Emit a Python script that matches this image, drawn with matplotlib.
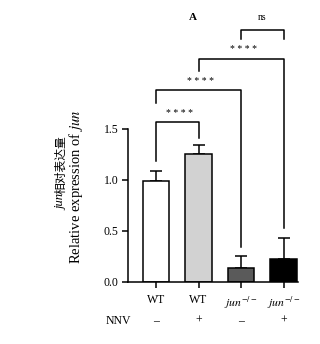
import matplotlib
matplotlib.use("Agg")
import matplotlib.pyplot as plt

plt.rcParams['font.family'] = ['Liberation Serif', 'Noto Sans CJK SC']
plt.rcParams['mathtext.fontset'] = 'stix'

groups = ['WT', 'WT', r'$\mathit{jun}^{-/-}$', r'$\mathit{jun}^{-/-}$']
nnv = ['\u2013', '+', '\u2013', '+']
means = [0.99, 1.25, 0.13, 0.22]
errs = [0.10, 0.09, 0.12, 0.205]
colors = ['white', '#d2d2d2', '#5a5a5a', 'black']

# comparisons: (i, j, bracket height, left leg end, right leg end, label)
comps = [
    (0, 1, 1.57, 1.18, 1.41, '* * * *'),
    (0, 2, 1.88, 1.75, 0.34, '* * * *'),
    (1, 3, 2.19, 2.07, 0.53, '* * * *'),
    (2, 3, 2.47, 2.38, 2.38, 'ns'),
]

fig = plt.figure(figsize=(3.2, 3.44), dpi=100)
ax = fig.add_axes([0.4, 0.181, 0.53, 0.80])

x = range(len(means))
ax.bar(x, means, width=0.63, color=colors, edgecolor='black', linewidth=1.1, zorder=2)
ax.errorbar(x, means, yerr=[[0] * len(errs), errs], fmt='none', ecolor='black',
            elinewidth=1.1, capsize=4.5, capthick=1.1, zorder=1)

for i, j, h, l1, l2, lab in comps:
    ax.plot([i, i, j, j], [l1, h, h, l2], color='black', lw=1.1, clip_on=False)
    if lab == 'ns':
        ax.text((i + j) / 2, h + 0.08, lab, ha='center', va='bottom', fontsize=7)
    else:
        ax.text((i + j) / 2 + 0.05, h + 0.04, lab, ha='center', va='bottom', fontsize=7)

ax.text(0.86, 2.55, 'A', ha='center', va='bottom', fontsize=8, fontweight='bold')

ax.set_xlim(-0.66, 3.33)
ax.set_ylim(0, 2.7)
ax.set_yticks([0, 0.5, 1.0, 1.5])
ax.set_yticklabels(['0.0', '0.5', '1.0', '1.5'], fontsize=8.5)
ax.set_xticks(list(x))
ax.set_xticklabels(groups, fontsize=8.5)
ax.tick_params(axis='both', direction='out', length=4, width=1.1, pad=3)
ax.tick_params(axis='x', pad=5)
ax.spines['top'].set_visible(False)
ax.spines['right'].set_visible(False)
ax.spines['left'].set_bounds(0, 1.5)
ax.spines['left'].set_linewidth(1.1)
ax.spines['bottom'].set_linewidth(1.1)

# NNV row
fig.text(0.37, 1 - 321 / 344, 'NNV', ha='center', va='center', fontsize=8.5)
for xi, s in zip(x, nnv):
    xf = ax.transData.transform((xi, 0))[0] / fig.bbox.width
    fig.text(xf, 1 - 321 / 344, s, ha='center', va='center', fontsize=8.5)

# y labels
fig.text(76 / 320, 1 - 187 / 344, r'Relative expression of $\mathit{jun}$',
         rotation=90, ha='center', va='center', fontsize=10.5)

fig.canvas.draw()
renderer = fig.canvas.get_renderer()
y0 = 1 - 210 / 344
t1 = fig.text(61 / 320, y0, 'jun', rotation=90, ha='center', va='bottom',
              fontsize=9, style='italic')
h1 = t1.get_window_extent(renderer).height / fig.bbox.height
fig.text(61 / 320, y0 + h1, '相对表达量', rotation=90, ha='center', va='bottom',
         fontsize=8.5, family='Noto Sans CJK SC')

fig.savefig('out.png', dpi=100, facecolor='white')
